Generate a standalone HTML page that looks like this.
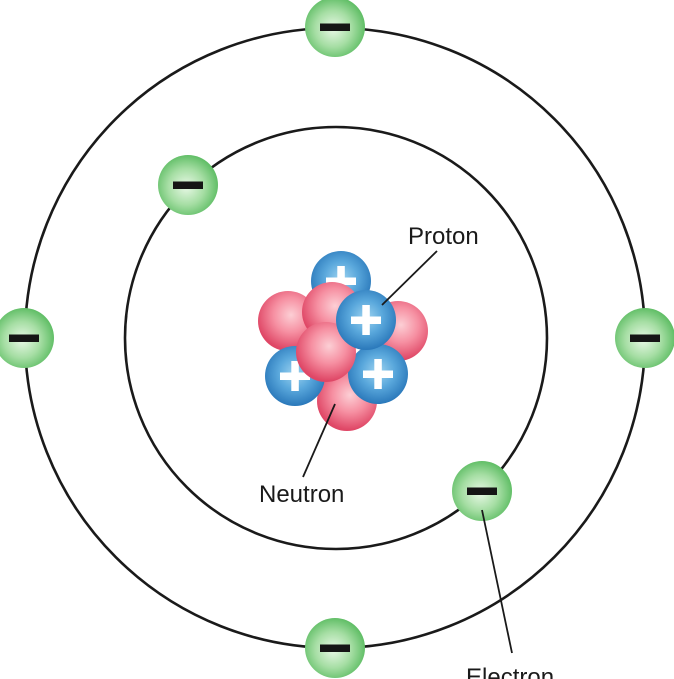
<!DOCTYPE html>
<html><head><meta charset="utf-8"><style>
html,body{margin:0;padding:0;background:#fff;}
svg{display:block;}
text{font-family:"Liberation Sans",sans-serif;font-size:24px;fill:#1a1a1a;}
</style></head><body>
<svg width="674" height="679" viewBox="0 0 674 679" xmlns="http://www.w3.org/2000/svg">
<defs>
<radialGradient id="g" cx="47%" cy="53%" r="55%">
<stop offset="0" stop-color="#e8f8e6"/>
<stop offset="0.55" stop-color="#a6dea4"/>
<stop offset="1" stop-color="#5cbc62"/>
</radialGradient>
<radialGradient id="b" cx="50%" cy="45%" r="55%">
<stop offset="0" stop-color="#9dd3f0"/>
<stop offset="0.5" stop-color="#5aa8dc"/>
<stop offset="1" stop-color="#2a78ba"/>
</radialGradient>
<radialGradient id="r" cx="55%" cy="40%" r="58%">
<stop offset="0" stop-color="#fccfd5"/>
<stop offset="0.5" stop-color="#f690a2"/>
<stop offset="1" stop-color="#df4766"/>
</radialGradient>
<g id="el"><circle r="30" fill="url(#g)"/><rect x="-15" y="-3.5" width="30" height="7.5" fill="#151515"/></g>
<g id="pr"><circle r="30" fill="url(#b)"/><rect x="-15" y="-3.5" width="30" height="7.5" fill="#fff"/><rect x="-3.7" y="-15" width="7.5" height="30" fill="#fff"/></g>
<g id="ne"><circle r="30" fill="url(#r)"/></g>
</defs>
<circle cx="335" cy="338" r="310" fill="none" stroke="#1a1a1a" stroke-width="2.6"/>
<circle cx="336" cy="338" r="211" fill="none" stroke="#1a1a1a" stroke-width="2.6"/>

<!-- nucleus -->
<use href="#pr" x="341" y="281"/>
<use href="#ne" x="288" y="321"/>
<use href="#ne" x="398" y="331"/>
<use href="#ne" x="332" y="312"/>
<use href="#ne" x="347" y="401"/>
<use href="#pr" x="295" y="376"/>
<use href="#pr" x="378" y="374"/>
<use href="#ne" x="326" y="352"/>
<use href="#pr" x="366" y="320"/>

<!-- electrons -->
<use href="#el" x="335" y="27"/>
<use href="#el" x="24" y="338"/>
<use href="#el" x="645" y="338"/>
<use href="#el" x="188" y="185"/>
<use href="#el" x="482" y="491"/>
<use href="#el" x="335" y="648"/>

<!-- leader lines -->
<line x1="437" y1="251" x2="382" y2="305" stroke="#1a1a1a" stroke-width="1.8"/>
<line x1="335" y1="404" x2="303" y2="477" stroke="#1a1a1a" stroke-width="1.8"/>
<line x1="482" y1="510" x2="512" y2="653" stroke="#1a1a1a" stroke-width="1.8"/>

<text x="408" y="244">Proton</text>
<text x="259" y="502">Neutron</text>
<text x="466" y="685">Electron</text>
</svg>
</body></html>
